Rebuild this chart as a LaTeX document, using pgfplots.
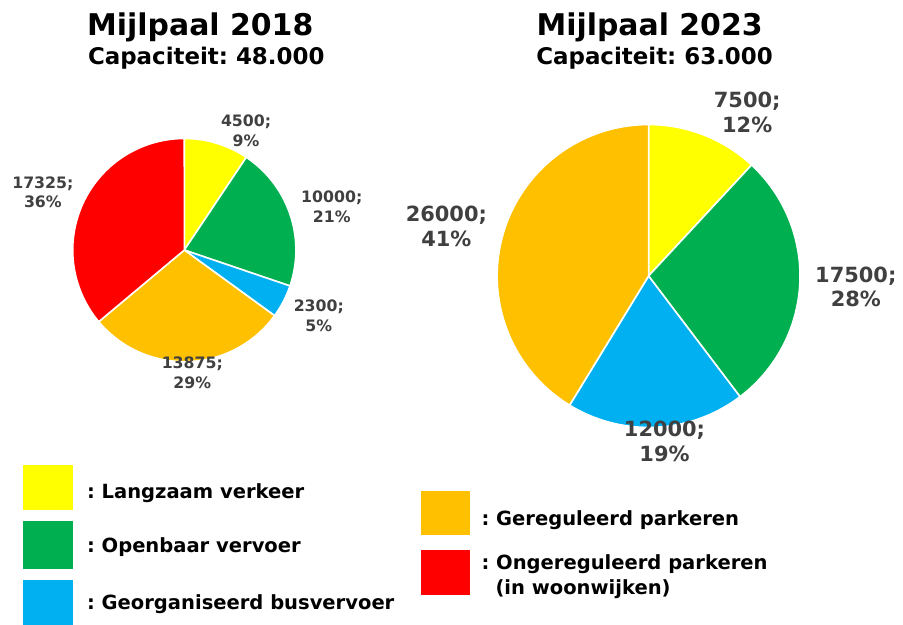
\documentclass[border=0pt]{standalone}
\usepackage{pgfplots}
\pgfplotsset{compat=1.18}
\usepackage{fontspec}
\setmainfont{DejaVu Sans}
\frenchspacing

\definecolor{cYel}{HTML}{FFFF00}
\definecolor{cGrn}{HTML}{00B050}
\definecolor{cBlu}{HTML}{00B0F0}
\definecolor{cOra}{HTML}{FFC000}
\definecolor{cRed}{HTML}{FF0000}
\definecolor{lblgray}{HTML}{404040}

% one pie slice: cx, cy, r, cumulative start, value, total, colour
\newcommand\slice[7]{%
  \begingroup
  \pgfkeys{/pgf/fpu=true,/pgf/fpu/output format=fixed}%
  \pgfmathparse{90-360*(#4+#5)/#6}\xdef\angA{\pgfmathresult}%
  \pgfmathparse{90-360*(#4)/#6}\xdef\angB{\pgfmathresult}%
  \endgroup
  \edef\doslice{\noexpand\addplot[fill=#7, draw=white, line width=0.8pt,
      domain=\angA:\angB, samples=90]
    ({#1+#3*cos(x)},{#2-#3*sin(x)}) -- (axis cs:#1,#2) -- cycle;}%
  \doslice
}

\begin{document}
\begin{tikzpicture}
\begin{axis}[
    x=0.5pt, y=0.5pt, y dir=reverse,
    xmin=0, xmax=903, ymin=0, ymax=627,
    scale only axis, hide axis, clip=false
]
\path (axis cs:0,0) rectangle (axis cs:903,627);

% Mijlpaal 2018, total 48000
\slice{185}{251}{112}{0}{4500}{48000}{cYel}
\slice{185}{251}{112}{4500}{10000}{48000}{cGrn}
\slice{185}{251}{112}{14500}{2300}{48000}{cBlu}
\slice{185}{251}{112}{16800}{13875}{48000}{cOra}
\slice{185}{251}{112}{30675}{17325}{48000}{cRed}

% Mijlpaal 2023, total 63000
\slice{651}{277}{152}{0}{7500}{63000}{cYel}
\slice{651}{277}{152}{7500}{17500}{63000}{cGrn}
\slice{651}{277}{152}{25000}{12000}{63000}{cBlu}
\slice{651}{277}{152}{37000}{26000}{63000}{cOra}

% titles
\node[anchor=base, font=\bfseries\fontsize{15}{18}\selectfont] at (axis cs:201,36) {Mijlpaal 2018};
\node[anchor=base, font=\bfseries\fontsize{11.5}{14}\selectfont] at (axis cs:207,65) {Capaciteit: 48.000};
\node[anchor=base, font=\bfseries\fontsize{15}{18}\selectfont] at (axis cs:652,36) {Mijlpaal 2023};
\node[anchor=base, font=\bfseries\fontsize{11.5}{14}\selectfont] at (axis cs:657,65) {Capaciteit: 63.000};

% slice labels 2018
\begin{scope}[every node/.style={align=center, text=lblgray, font=\bfseries\fontsize{7.9}{10}\selectfont}]
\node at (axis cs:247,131) {4500;\\9\%};
\node at (axis cs:333,208) {10000;\\21\%};
\node at (axis cs:320,317) {2300;\\5\%};
\node at (axis cs:193,374) {13875;\\29\%};
\node at (axis cs:43,193) {17325;\\36\%};
\end{scope}

% slice labels 2023
\begin{scope}[every node/.style={align=center, text=lblgray, font=\bfseries\fontsize{10.5}{12.5}\selectfont}]
\node at (axis cs:750,113) {7500;\\12\%};
\node at (axis cs:859,288) {17500;\\28\%};
\node at (axis cs:667,443) {12000;\\19\%};
\node at (axis cs:448,227) {26000;\\41\%};
\end{scope}

% legend
\fill[cYel] (axis cs:23,467) rectangle (axis cs:73,512);
\fill[cGrn] (axis cs:23,523) rectangle (axis cs:73,571);
\fill[cBlu] (axis cs:23,582) rectangle (axis cs:73,627);
\fill[cOra] (axis cs:423,493) rectangle (axis cs:472,537);
\fill[cRed] (axis cs:423,552) rectangle (axis cs:472,597);
\begin{scope}[every node/.style={anchor=base west, inner sep=0pt, font=\bfseries\fontsize{9.8}{12.5}\selectfont}]
\node at (axis cs:87,500) {: Langzaam verkeer};
\node at (axis cs:87,555) {: Openbaar vervoer};
\node at (axis cs:87,612) {: Georganiseerd busvervoer};
\node at (axis cs:483,527) {: Gereguleerd parkeren};
\node at (axis cs:483,572) {: Ongereguleerd parkeren};
\node at (axis cs:497,597) {(in woonwijken)};
\end{scope}
\end{axis}
\end{tikzpicture}
\end{document}
